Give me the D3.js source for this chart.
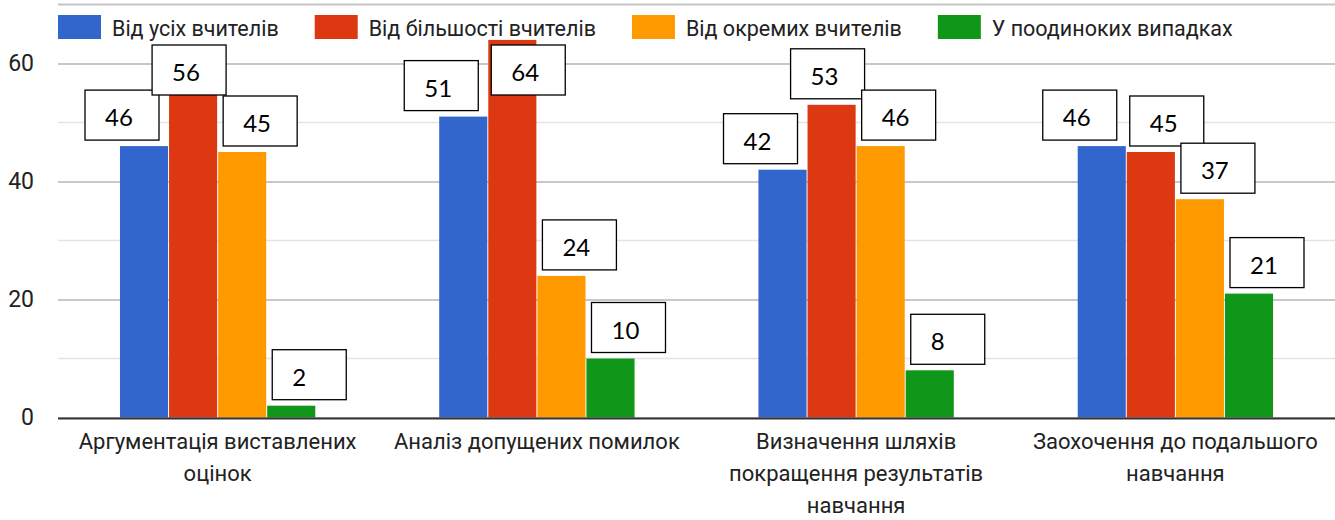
<!DOCTYPE html>
<html>
<head>
<meta charset="utf-8">
<script src="https://cdn.jsdelivr.net/npm/d3@7"></script>
<style>
    body { margin: 0; background: #fff; }
    svg { display: block; }
</style>
</head>
<body>
<div class="vis-chart"></div>
<script>
const categories = [
    'Аргументація виставлених оцінок',
    'Аналіз допущених помилок',
    'Визначення шляхів покращення результатів навчання',
    'Заохочення до подальшого навчання'
];
const seriesNames = ['Від усіх вчителів', 'Від більшості вчителів', 'Від окремих вчителів', 'У поодиноких випадках'];
const fromAll = [46, 51, 42, 46];
const fromMost = [56, 64, 53, 45];
const fromSome = [45, 24, 46, 37];
const rarely = [2, 10, 8, 21];
const yTicks = [0, 20, 40, 60];
const yGrid = [10, 30, 50, 70];

const colors = ['#3366cc', '#dc3912', '#ff9900', '#109618'];

const draw = (outerWidth, outerHeight) => {
    const margin = {top: 4, right: 0, bottom: 103, left: 58};
    const width = outerWidth - margin.left - margin.right;
    const height = outerHeight - margin.top - margin.bottom;

    const svg = d3.select('.vis-chart').append('svg')
        .attr('width', outerWidth)
        .attr('height', outerHeight)
        .style('font-family', 'Roboto, sans-serif');
    const g = svg.append('g')
        .attr('transform', 'translate(' + margin.left + ',' + margin.top + ')');

    const values = [fromAll, fromMost, fromSome, rarely];
    const dataset = categories.map((c, i) => ({
        label: c,
        vals: values.map((s, k) => ({key: k, value: s[i]}))
    }));

    const x0 = d3.scaleBand()
        .domain(categories)
        .range([0, width])
        .paddingInner(0.382)
        .paddingOuter(0.191);
    const x1 = d3.scaleBand()
        .domain(d3.range(seriesNames.length))
        .range([0, x0.bandwidth()])
        .padding(0.02);
    const y = d3.scaleLinear()
        .domain([0, 70])
        .range([height + 0.5, 0.5]);

    // gridlines
    g.selectAll('.minor')
        .data(yGrid)
        .enter().append('line')
        .attr('x1', 0).attr('x2', width)
        .attr('y1', d => y(d)).attr('y2', d => y(d))
        .attr('stroke', d => d === 70 ? '#c6c6c6' : '#e4e4e4')
        .attr('stroke-width', d => d === 70 ? 2 : 1.5);

    const yAxis = g.append('g')
        .call(d3.axisLeft(y).tickValues(yTicks).tickSize(-width).tickPadding(24));
    yAxis.select('.domain').remove();
    yAxis.selectAll('.tick line')
        .attr('stroke', '#c8c8c8')
        .attr('stroke-width', 2);
    yAxis.selectAll('.tick text')
        .attr('fill', '#222')
        .style('font-size', '23px')
        .style('font-family', 'Roboto, sans-serif');

    // bars
    const groups = g.selectAll('.group')
        .data(dataset)
        .enter().append('g')
        .attr('transform', d => 'translate(' + x0(d.label) + ',0)');
    groups.selectAll('rect')
        .data(d => d.vals)
        .enter().append('rect')
        .attr('x', d => x1(d.key))
        .attr('width', x1.bandwidth())
        .attr('y', d => y(d.value))
        .attr('height', d => y(0) - y(d.value))
        .attr('fill', d => colors[d.key]);

    // baseline
    g.append('line')
        .attr('x1', 0).attr('x2', width)
        .attr('y1', y(0) + 1).attr('y2', y(0) + 1)
        .attr('stroke', '#333')
        .attr('stroke-width', 2);

    // value boxes
    const boxW = 74, boxH = 50, minTop = 41;
    const shift = [-22, -4, 18, 18];
    dataset.forEach(d => {
        let prev = null;
        d.vals.forEach(v => {
            const cx = x0(d.label) + x1(v.key) + x1.bandwidth() / 2 + shift[v.key];
            let left = cx - boxW / 2;
            const top = Math.max(minTop, y(v.value) - 6 - boxH);
            if (prev && Math.abs(prev.top - top) < 25 && left < prev.left + boxW) {
                left = prev.left + boxW + 13;
            }
            prev = {left, top};
            const lab = g.append('g').attr('transform', 'translate(' + left + ',' + top + ')');
            lab.append('rect')
                .attr('width', boxW).attr('height', boxH)
                .attr('fill', '#fff')
                .attr('stroke', '#000')
                .attr('stroke-width', 1.3);
            lab.append('text')
                .attr('x', 20).attr('y', 36)
                .style('font-family', 'Lato, sans-serif')
                .style('font-size', '24px')
                .attr('fill', '#000')
                .text(v.value);
        });
    });

    // category labels
    const xAxis = g.append('g')
        .attr('transform', 'translate(0,' + (height + 32) + ')');
    dataset.forEach(d => {
        const t = xAxis.append('text')
            .attr('x', x0(d.label) + x0.bandwidth() / 2)
            .attr('text-anchor', 'middle')
            .attr('fill', '#222')
            .style('font-size', '22px');
        const words = d.label.split(' ');
        let line = [];
        let n = 0;
        let ts = t.append('tspan').attr('x', x0(d.label) + x0.bandwidth() / 2).attr('y', 0);
        words.forEach(w => {
            line.push(w);
            ts.text(line.join(' '));
            if (ts.node().getComputedTextLength() > 300 && line.length > 1) {
                line.pop();
                ts.text(line.join(' '));
                line = [w];
                n++;
                ts = t.append('tspan')
                    .attr('x', x0(d.label) + x0.bandwidth() / 2)
                    .attr('y', n * 32)
                    .text(w);
            }
        });
    });

    // legend
    const legend = svg.append('g').attr('transform', 'translate(58,15)');
    let lx = 0;
    seriesNames.forEach((s, i) => {
        const item = legend.append('g').attr('transform', 'translate(' + lx + ',0)');
        item.append('rect')
            .attr('width', 43).attr('height', 24)
            .attr('fill', colors[i]);
        const t = item.append('text')
            .attr('x', 54).attr('y', 21)
            .attr('fill', '#222')
            .style('font-size', '21.5px')
            .text(s);
        lx += 54 + t.node().getComputedTextLength() + 36;
    });
};

draw(1335, 520);
</script>
</body>
</html>
